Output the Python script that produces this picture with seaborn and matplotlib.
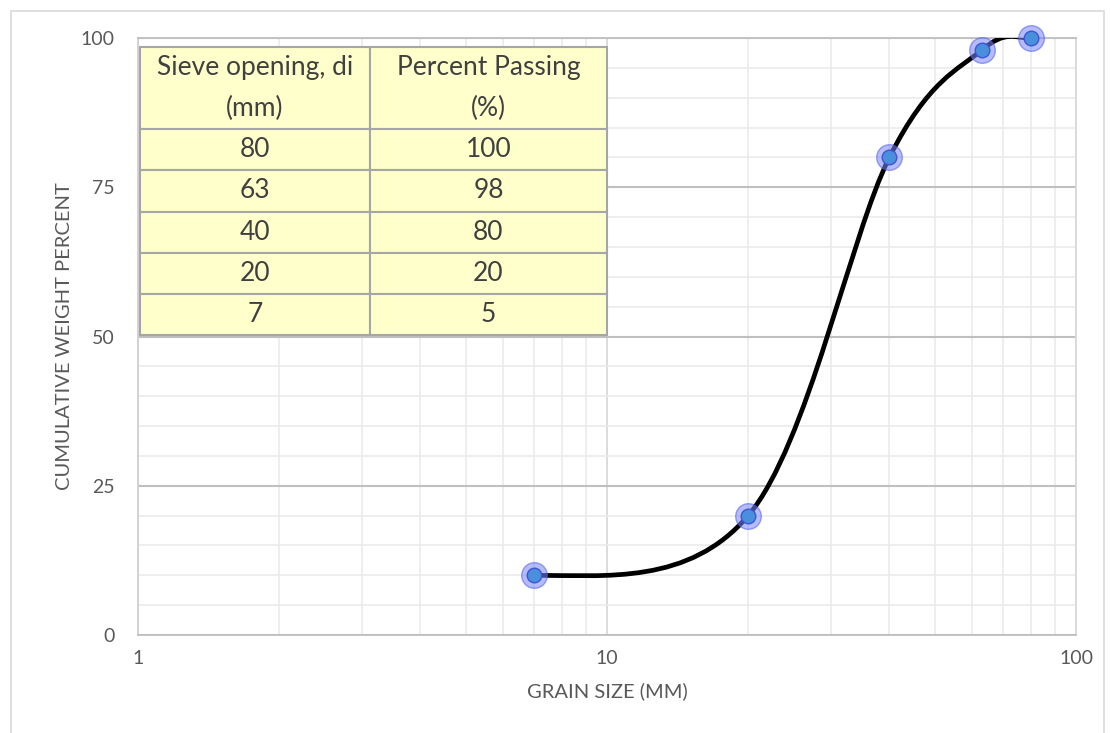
import numpy as np
import seaborn as sns
import matplotlib.pyplot as plt
from matplotlib.path import Path
from matplotlib.patches import PathPatch, Rectangle

# data
sieve_mm = [80, 63, 40, 20, 7]
percent_passing = [100, 98, 80, 20, 5]
# points as plotted on the chart (the 7 mm point sits at 10 %)
grain_size = [7, 20, 40, 63, 80]
cum_weight = [10, 20, 80, 98, 100]

x_ticks = [1, 10, 100]
y_ticks = [0, 25, 50, 75, 100]

sns.set_style("white")
plt.rcParams["font.family"] = ["Lato", "DejaVu Sans"]

text_col = "#595959"

fig = plt.figure(figsize=(11.1, 7.33), dpi=100)
ax = fig.add_axes([138 / 1110, 1 - 635 / 733, 938 / 1110, 597 / 733])

# outer chart frame
fig.patches.append(Rectangle((11 / 1110, -0.05), 1093 / 1110, 1.05 - 11 / 733,
                             transform=fig.transFigure, fill=False,
                             edgecolor="#d9d9d9", linewidth=1.2, zorder=0))

ax.set_xscale("log")
ax.set_xlim(1, 100)
ax.set_ylim(0, 100)
ax.set_xticks(x_ticks)
ax.set_xticklabels([str(v) for v in x_ticks])
ax.set_yticks(y_ticks)
ax.set_yticks(np.arange(0, 101, 5), minor=True)
ax.tick_params(axis="both", which="both", length=0, labelsize=14,
               labelcolor=text_col)
ax.tick_params(axis="x", pad=11)
ax.tick_params(axis="y", pad=17)

ax.grid(True, which="minor", color="#ebebeb", linewidth=1.2)
ax.grid(True, which="major", axis="y", color="#bfbfbf", linewidth=1.5)
ax.grid(True, which="major", axis="x", color="#d9d9d9", linewidth=1.3)
ax.set_axisbelow(True)
for side, col in [("left", "#d0d0d0"), ("bottom", "#bfbfbf"),
                  ("top", "#bfbfbf"), ("right", "#d9d9d9")]:
    ax.spines[side].set_visible(True)
    ax.spines[side].set_color(col)
    ax.spines[side].set_linewidth(1.3)

ax.set_xlabel("GRAIN SIZE (MM)", fontsize=14.5, color=text_col, labelpad=11)
ax.set_ylabel("CUMULATIVE WEIGHT PERCENT", fontsize=14.5, color=text_col,
              labelpad=5)

# smoothed line: Catmull-Rom in (log x, y) space, flat end tangents
u = np.log10(grain_size)
y = np.array(cum_weight, dtype=float)
n = len(u)
tu = np.zeros(n)
ty = np.zeros(n)
for i in range(n):
    if i == 0:
        tu[i], ty[i] = u[1] - u[0], 0.0
    elif i == n - 1:
        tu[i], ty[i] = u[-1] - u[-2], 0.0
    else:
        tu[i], ty[i] = (u[i + 1] - u[i - 1]) / 2, (y[i + 1] - y[i - 1]) / 2
verts = [(10 ** u[0], y[0])]
codes = [Path.MOVETO]
for i in range(n - 1):
    c1 = (10 ** (u[i] + tu[i] / 3), y[i] + ty[i] / 3)
    c2 = (10 ** (u[i + 1] - tu[i + 1] / 3), y[i + 1] - ty[i + 1] / 3)
    verts += [c1, c2, (10 ** u[i + 1], y[i + 1])]
    codes += [Path.CURVE4] * 3
ax.add_patch(PathPatch(Path(verts, codes), facecolor="none",
                       edgecolor="black", linewidth=3.4, zorder=3,
                       capstyle="round"))

sns.scatterplot(x=grain_size, y=cum_weight, ax=ax, s=340, color="#7b86f5",
                alpha=0.55, edgecolor="#4a5cf0", linewidth=1.0, zorder=4,
                clip_on=False)
sns.scatterplot(x=grain_size, y=cum_weight, ax=ax, s=110, color="#4a8fdc",
                edgecolor="#3d55d6", linewidth=1.0, zorder=5, clip_on=False)

# data table
cell_text = [[str(a), str(b)] for a, b in zip(sieve_mm, percent_passing)]
tbl = ax.table(cellText=[["Sieve opening, di\n(mm)", "Percent Passing\n(%)"]] + cell_text,
               cellLoc="center", colWidths=[230, 237],
               bbox=[2 / 938, (635 - 335) / 597, 467 / 938, 288 / 597],
               zorder=6)
tbl.auto_set_font_size(False)
for (r, c), cell in tbl.get_celld().items():
    cell.set_facecolor("#ffffcc")
    cell.set_edgecolor("#a6a6a6")
    cell.set_linewidth(1.5)
    cell.set_height(2.0 if r == 0 else 1.0)
    cell.get_text().set_fontsize(19)
    cell.get_text().set_color("#404040")
    cell.get_text().set_linespacing(1.8)

fig.savefig("out.png", dpi=100)
